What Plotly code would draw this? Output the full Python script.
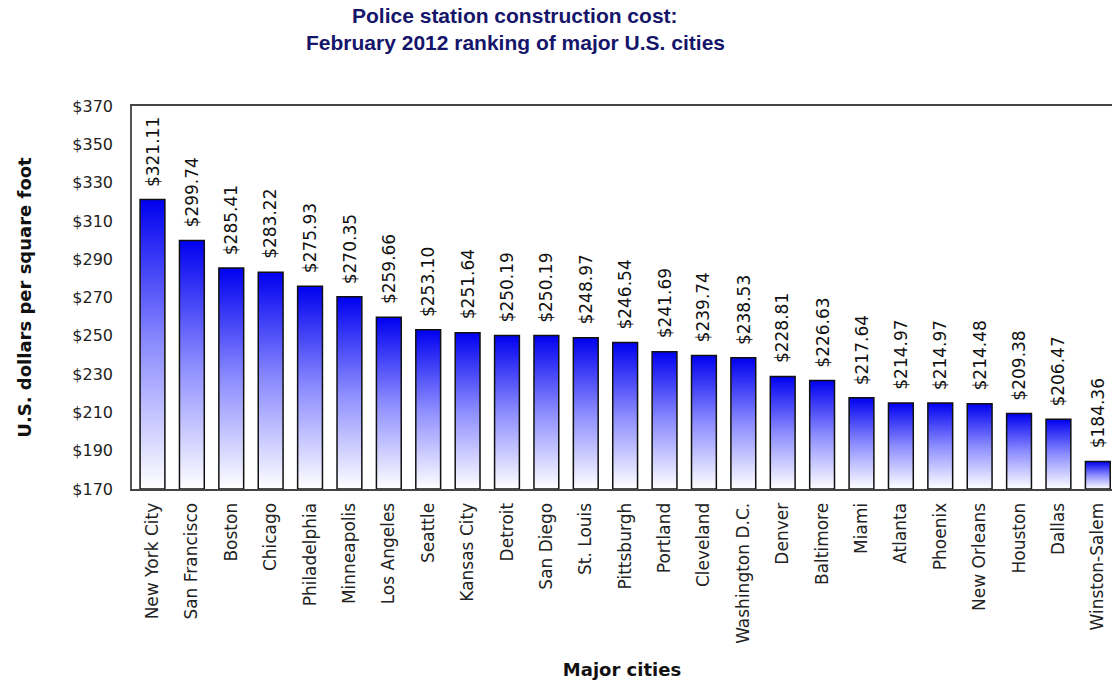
import plotly.graph_objects as go

cities = ["New York City", "San Francisco", "Boston", "Chicago", "Philadelphia",
          "Minneapolis", "Los Angeles", "Seattle", "Kansas City", "Detroit",
          "San Diego", "St. Louis", "Pittsburgh", "Portland", "Cleveland",
          "Washington D.C.", "Denver", "Baltimore", "Miami", "Atlanta",
          "Phoenix", "New Orleans", "Houston", "Dallas", "Winston-Salem"]
costs = [321.11, 299.74, 285.41, 283.22, 275.93, 270.35, 259.66, 253.10, 251.64,
         250.19, 250.19, 248.97, 246.54, 241.69, 239.74, 238.53, 228.81, 226.63,
         217.64, 214.97, 214.97, 214.48, 209.38, 206.47, 184.36]
y_ticks = list(range(170, 371, 20))
y_tick_labels = [f"${v}" for v in y_ticks]

Y_MIN, Y_MAX = 170, 370
BAR_W = 0.63
NAVY = "#15156a"
W, H = 1112, 683
ML, MR, MT, MB = 132, 0, 106, 194
PLOT_H = H - MT - MB
PLOT_W = W - ML - MR


def px_to_paper_x(px):
    return (px - ML) / PLOT_W


def px_to_paper_y(py):
    return (H - MB - py) / PLOT_H


fig = go.Figure()
for i, (c, v) in enumerate(zip(cities, costs)):
    x0, x1 = i - BAR_W / 2, i + BAR_W / 2
    fig.add_trace(go.Scatter(
        x=[x0, x0, x1, x1, x0], y=[Y_MIN, v, v, Y_MIN, Y_MIN],
        mode="lines", fill="toself",
        fillgradient=dict(type="vertical",
                          colorscale=[[0, "#ffffff"], [0.5, "#8c8cff"], [1, "#0000f0"]]),
        line=dict(color="#111111", width=1.5),
        hoverinfo="text", text=f"{c}: ${v:.2f}", showlegend=False,
    ))
    fig.add_annotation(x=i, y=v, text=f"${v:.2f}", textangle=-90,
                       showarrow=False, xanchor="center", yanchor="bottom", yshift=11,
                       font=dict(family="DejaVu Sans", size=17, color="#111111"))

title_lines = ["Police station construction cost:",
               "February 2012 ranking of major U.S. cities"]
for line, py in zip(title_lines, [16, 43]):
    fig.add_annotation(text=f"<b>{line}</b>", xref="paper", yref="paper",
                       x=px_to_paper_x(515), y=px_to_paper_y(py), showarrow=False,
                       xanchor="center", yanchor="middle",
                       font=dict(family="Liberation Sans", size=21, color=NAVY))

fig.update_layout(
    width=W, height=H,
    margin=dict(l=ML, r=MR, t=MT, b=MB),
    plot_bgcolor="white", paper_bgcolor="white",
    xaxis=dict(
        range=[-0.52, 24.36],
        tickmode="array", tickvals=list(range(len(cities))), ticktext=cities,
        tickangle=-90, tickfont=dict(family="DejaVu Sans", size=17, color="#222222"),
        ticklabelstandoff=5,
        showgrid=False, zeroline=False, showline=True, mirror=True,
        linecolor="#444444", linewidth=2, ticks="",
        title=dict(text="<b>Major cities</b>", standoff=21,
                   font=dict(family="DejaVu Sans", size=18, color="#111111")),
    ),
    yaxis=dict(
        range=[Y_MIN, Y_MAX], tickmode="array", tickvals=y_ticks, ticktext=y_tick_labels,
        tickfont=dict(family="DejaVu Sans", size=16, color="#222222"),
        ticklabelstandoff=14,
        showgrid=False, zeroline=False, showline=True, linecolor="#555555", linewidth=1.5,
        ticks="",
        title=dict(text="<b>U.S. dollars per square foot</b>", standoff=36,
                   font=dict(family="DejaVu Sans", size=18, color="#111111")),
    ),
)

fig.write_html("out.html", config={"displayModeBar": False},
               post_script="document.body.style.margin='0px';")
